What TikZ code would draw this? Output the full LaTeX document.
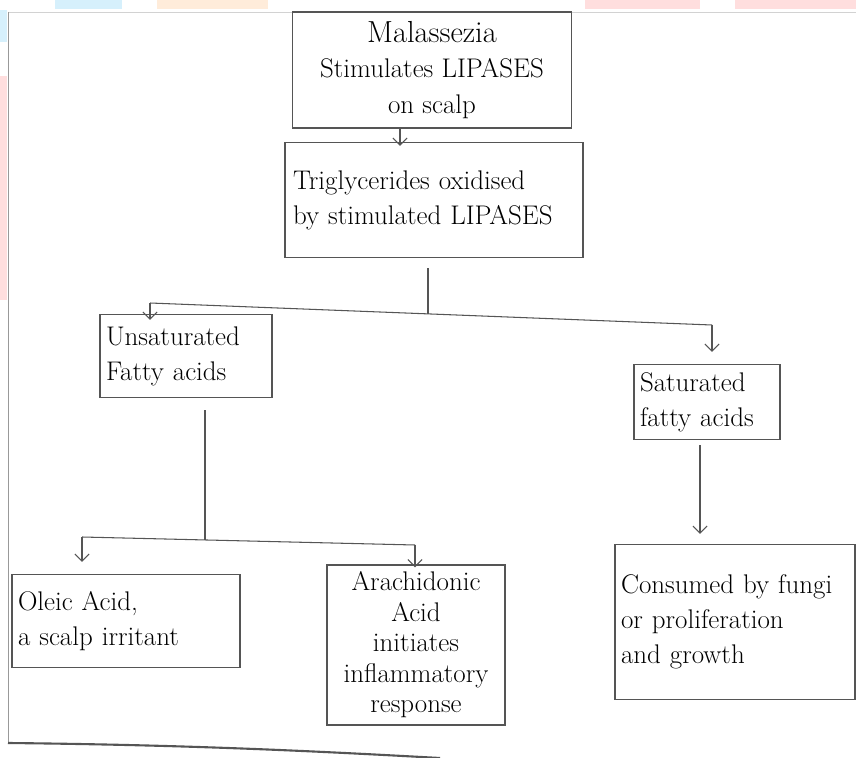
\documentclass[tikz,border=0pt]{standalone}
\usepackage{fontspec}
\usetikzlibrary{arrows.meta,calc}
\newlength{\pxl}
\setlength{\pxl}{0.03cm}
\definecolor{ink}{RGB}{85,85,85}
\definecolor{wmblue}{RGB}{214,240,252}
\definecolor{wmpeach}{RGB}{255,236,218}
\definecolor{wmpink}{RGB}{255,222,222}
\begin{document}
\begin{tikzpicture}[x=0.03cm, y=-0.03cm, font=\fontsize{23}{30}\selectfont,
		box/.style={draw=ink, line width=1.2pt, inner sep=5pt},
		wire/.style={draw=ink, line width=0.9pt},
		arr/.style={wire, -{Straight Barb[length=6pt,width=12pt]}}]
				\useasboundingbox (0,0) rectangle (856,758);
				\fill[white] (0,0) rectangle (856,758);

				% Paper and watermark
				\fill[wmblue] (55,0) rectangle (122,9);
				\fill[wmblue] (0,10) rectangle (7,42);
				\fill[wmpeach] (157,0) rectangle (268,9);
				\fill[wmpink] (0,76) rectangle (7,300);
				\fill[wmpink] (585,0) rectangle (700,9);
				\fill[wmpink] (735,0) rectangle (856,9);
				\draw[gray!35, line width=0.6pt] (8,12) -- (856,12);
				\draw[gray!80, line width=0.8pt] (8,12) -- (8,743);
				\draw[ink, line width=1.8pt] (8,743) .. controls (200,745) and (330,752) .. (440,758);

				% Top boxes
				\node[box, minimum width=279\pxl, minimum height=116\pxl, align=center] (mal) at (432,70)
					{{\fontsize{26}{30}\selectfont Malassezia}\\Stimulates LIPASES\\on scalp};
				\node[box, minimum width=298\pxl, minimum height=115\pxl, text width=282\pxl, align=left] (tri) at (434,200)
					{Triglycerides oxidised\\by stimulated LIPASES};
				\draw[arr] ($(mal.south)+(-32,0)$) -- ($(tri.north)+(-34,4)$);

				% Fatty acids
				\node[box, minimum width=172\pxl, minimum height=83\pxl, text width=160\pxl, align=left] (unsat) at (186,356)
					{Unsaturated\\Fatty acids};
				\node[box, minimum width=145\pxl, minimum height=75\pxl, text width=134\pxl, align=left] (sat) at (707,402)
					{Saturated\\fatty acids};
				\coordinate (split) at (428,314);
				\coordinate (bl) at (150,303);
				\coordinate (br) at (712,325);
				\draw[wire] ($(tri.south)+(-6,10)$) -- (split);
				\draw[wire] (bl) -- (br);
				\draw[arr] (bl) -- ($(bl |- unsat.north)+(0,6)$);
				\draw[arr] (br) -- ($(br |- sat.north)+(0,-12)$);

				% Products
				\node[box, minimum width=228\pxl, minimum height=93\pxl, text width=216\pxl, align=left] (oleic) at (126,621)
					{Oleic Acid,\\a scalp irritant};
				\node[box, minimum width=178\pxl, minimum height=160\pxl, align=center, font=\fontsize{23}{26}\selectfont] (arach) at (416,645)
					{Arachidonic\\Acid\\initiates\\inflammatory\\response};
				\node[box, minimum width=240\pxl, minimum height=155\pxl, text width=228\pxl, align=left] (cons) at (735,622)
					{Consumed by fungi\\or proliferation\\and growth};
				\coordinate (split2) at (205,540);
				\coordinate (bl2) at (82,537);
				\coordinate (br2) at (415,545);
				\draw[wire] ($(unsat.south)+(19,12)$) -- (split2);
				\draw[wire] (bl2) -- (br2);
				\draw[arr] (bl2) -- ($(bl2 |- oleic.north)+(0,-12)$);
				\draw[arr] (br2) -- ($(br2 |- arach.north)+(0,3)$);
				\draw[arr] ($(sat.south)+(-7,5)$) -- ($(cons.north)+(-35,-10)$);
			\end{tikzpicture}
\end{document}
